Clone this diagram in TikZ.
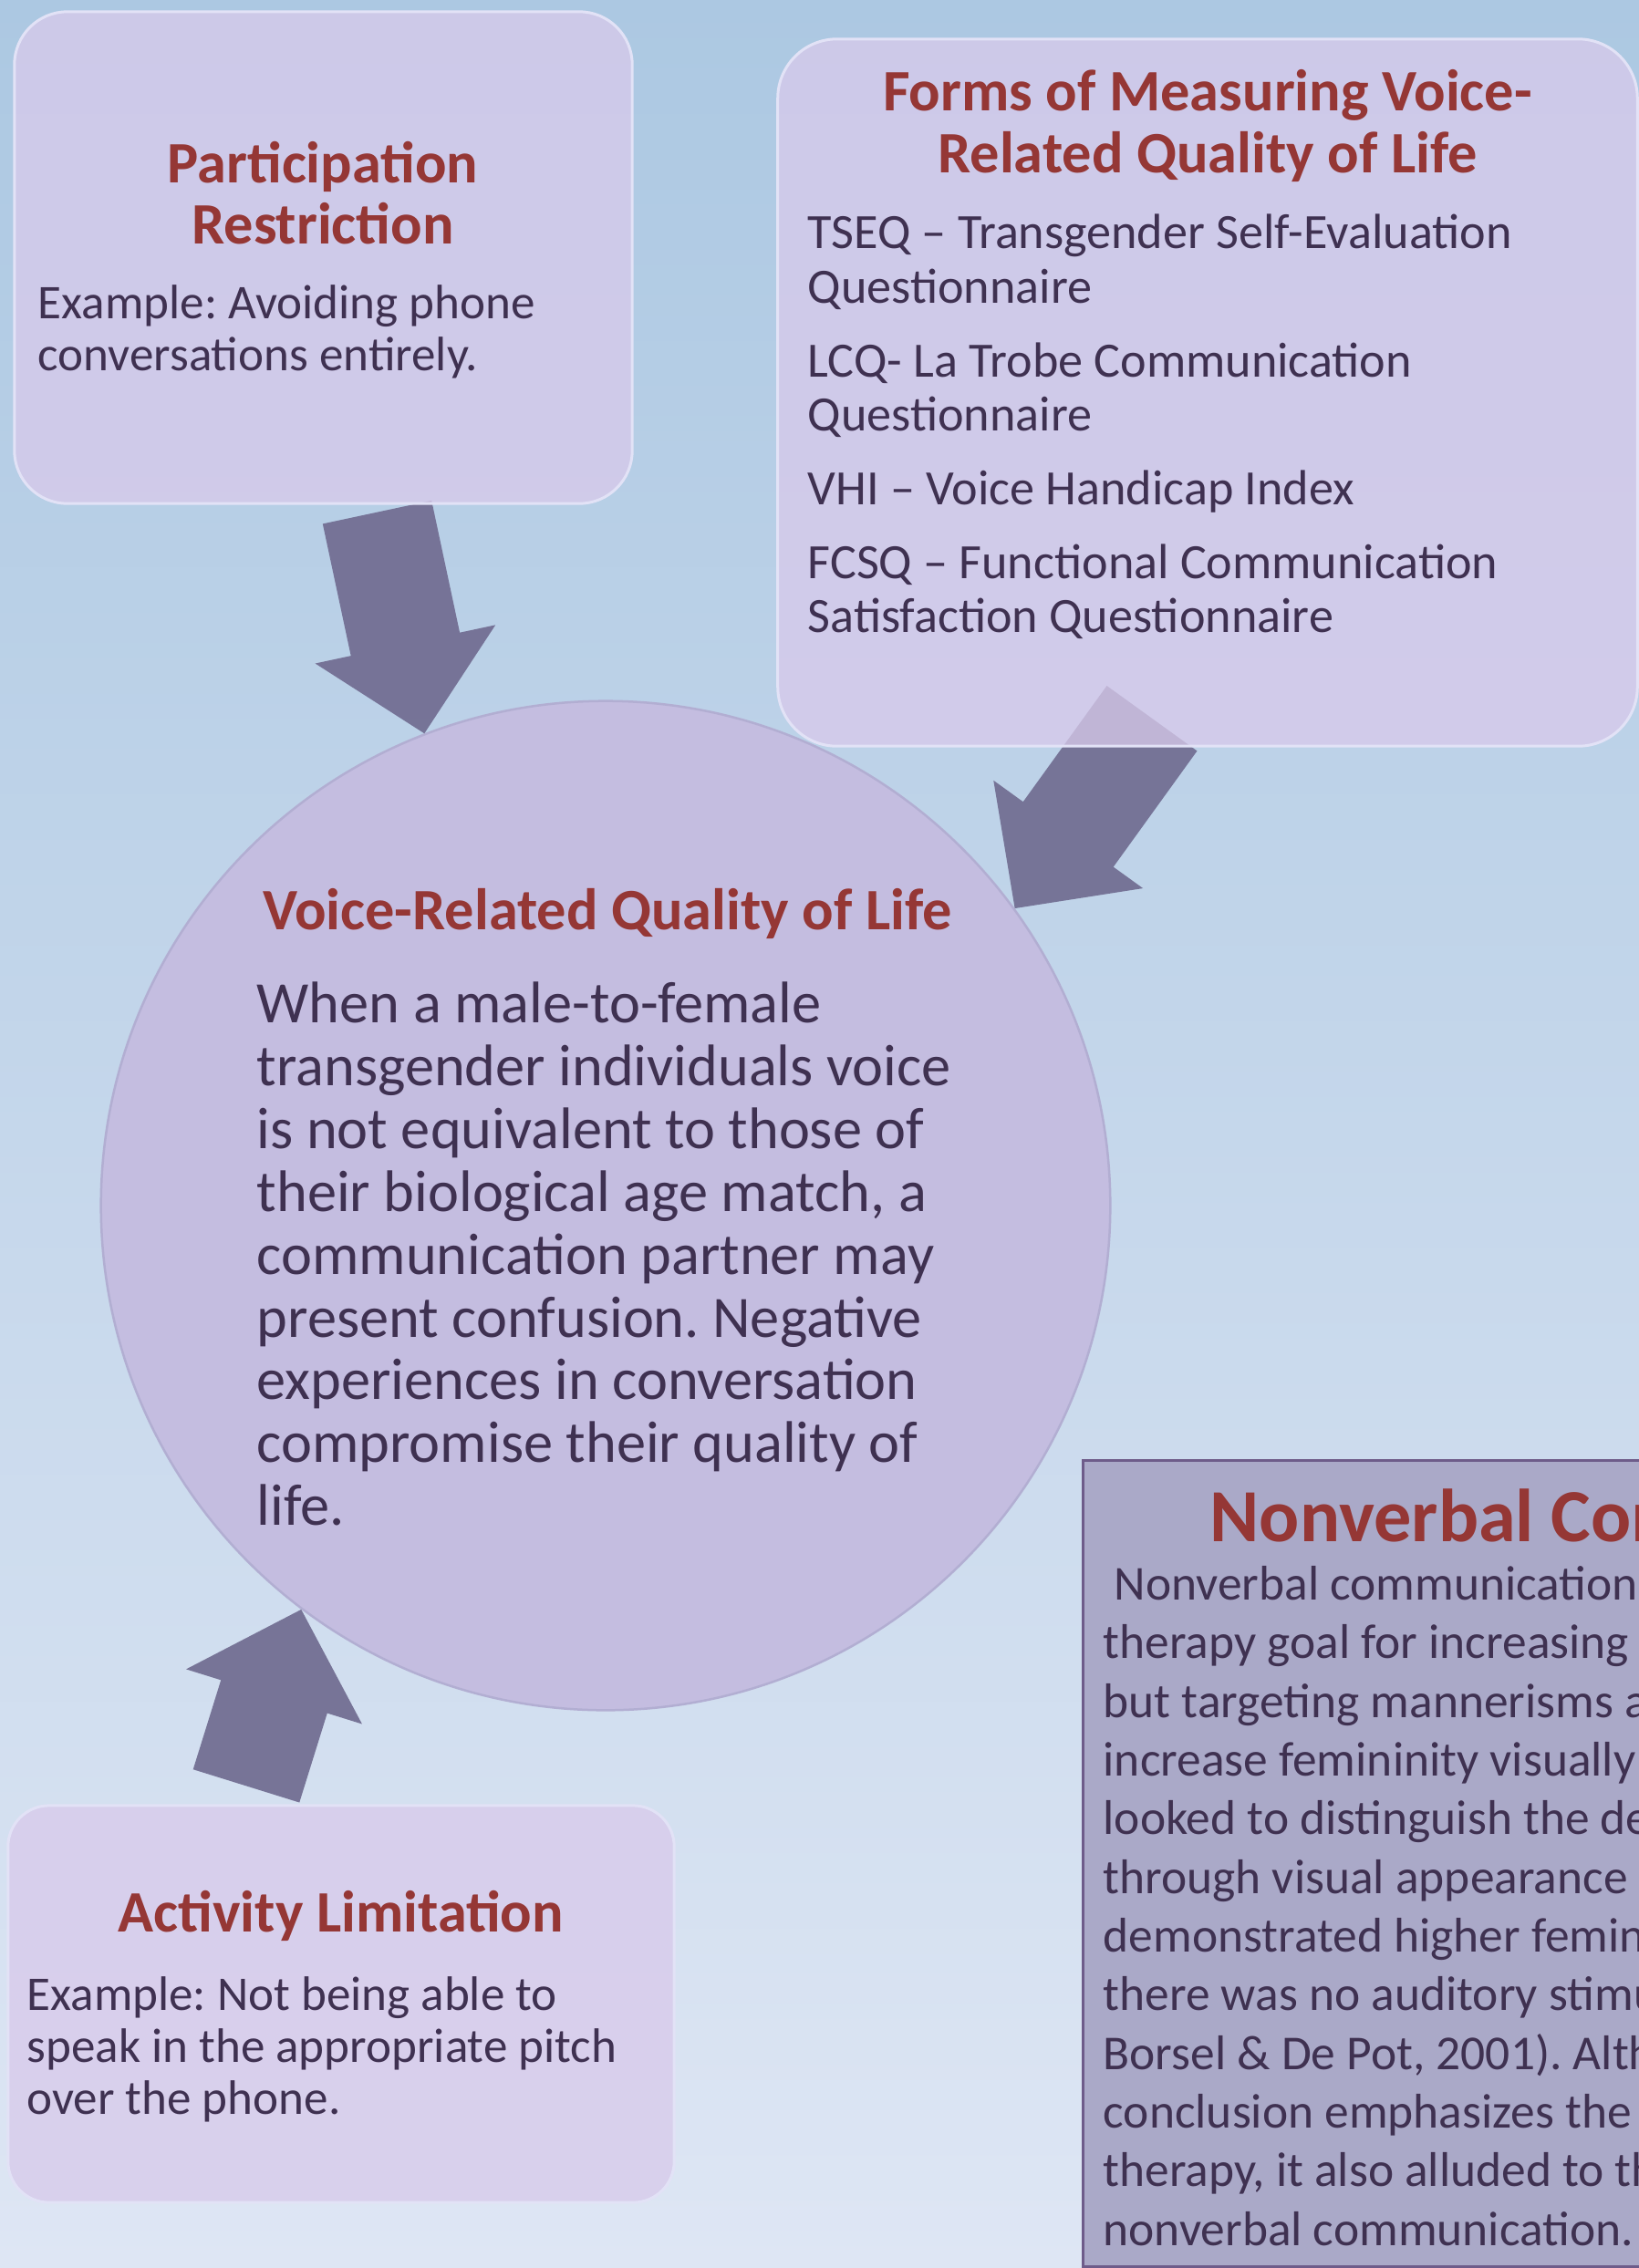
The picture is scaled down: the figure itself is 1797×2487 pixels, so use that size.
\documentclass[tikz,border=0pt]{standalone}
\usepackage{fontspec}
\setmainfont{Carlito}
\frenchspacing
\usetikzlibrary{positioning,calc,shapes.geometric}

\definecolor{skytop}{HTML}{ACC8E2}
\definecolor{skybot}{HTML}{DEE6F4}
\definecolor{cardfill}{RGB}{216,202,235}
\definecolor{cardrim}{HTML}{E2E2F6}
\definecolor{discfill}{RGB}{196,189,224}
\definecolor{discrim}{RGB}{178,174,210}
\definecolor{flowfill}{HTML}{736F93}
\definecolor{panelfill}{RGB}{170,169,200}
\definecolor{panelrim}{RGB}{110,92,138}
\definecolor{headred}{HTML}{953735}
\definecolor{bodyink}{HTML}{3F3151}

\pgfdeclarelayer{back}
\pgfdeclarelayer{flows}
\pgfsetlayers{back,flows,main}

% block arrow from #1 (middle of the tail) to #2 (the tip)
\newcommand{\fatarrow}[2]{%
  \path ($(#2)!1cm!(#1)$) coordinate (hb);
  \fill[flow] ($(#1)!0.61cm!90:(#2)$) -- ($(hb)!0.61cm!-90:(#1)$)
    -- ($(hb)!1.01cm!-90:(#1)$) -- (#2) -- ($(hb)!1.01cm!90:(#1)$)
    -- ($(hb)!0.61cm!90:(#1)$) -- ($(#1)!0.61cm!-90:(#2)$) -- cycle;
}

\begin{document}
\begin{tikzpicture}[x=0.01cm, y=-0.01cm,
    card/.style={draw=cardrim, line width=0.03cm, fill=cardfill, fill opacity=0.76, inner sep=0pt},
    disc/.style={circle, draw=discrim, line width=0.025cm, fill=discfill, inner sep=0pt},
    panel/.style={draw=panelrim, line width=0.03cm, fill=panelfill, inner sep=0pt},
    flow/.style={fill=flowfill, fill opacity=0.95},
    hdr/.style={text=headred, font=\fontsize{18.3}{19.1}\selectfont\bfseries, align=center, inner sep=0pt},
    txt/.style={text=bodyink, font=\fontsize{15.1}{16.2}\selectfont, align=left, inner sep=0pt}]
    \useasboundingbox (0,0) rectangle (1797,2487);

    % sky and the central disc
    \begin{pgfonlayer}{back}
        \shade[top color=skytop, bottom color=skybot] (0,0) rectangle (1797,2487);
        \node[disc, minimum size=11.06cm] (vq) at (664,1322) {};
    \end{pgfonlayer}

    % cards
    \node[card, rounded corners=0.58cm, minimum width=6.77cm, minimum height=5.39cm] (pr) at (354.5,282.5) {};
    \node[card, rounded corners=0.65cm, minimum width=9.42cm, minimum height=7.75cm] (fm) at (1324,430.5) {};
    \node[card, rounded corners=0.45cm, minimum width=7.30cm, minimum height=4.35cm] (al) at (374,2197.5) {};
    \node[panel, minimum width=6.22cm, minimum height=8.83cm] (nv) at (1499,2043.5) {};

    % arrows into the disc
    \begin{pgfonlayer}{flows}
        \coordinate (pr-tail) at ($(pr.south)+(59,8)$);
        \coordinate (fm-tail) at ($(fm.south)+(-61,-32)$);
        \coordinate (al-tail) at ($(al.north)+(-104,-20)$);
        \fatarrow{pr-tail}{vq.111}
        \fatarrow{fm-tail}{vq.36.5}
        \fatarrow{al-tail}{vq.233}
    \end{pgfonlayer}

    % Participation Restriction
    \node[hdr] (pr-title) at (354,212) {Participation\\Restriction};
    \node[txt, anchor=west] (pr-text) at (41,364) {Example: Avoiding phone\\conversations entirely.};

    % Forms of measuring
    \node[hdr] (fm-title) at (1324,138) {Forms of Measuring Voice-\\Related Quality of Life};
    \node[txt, anchor=west, font=\fontsize{15.4}{16.8}\selectfont] (fm-text) at (885,468)
        {TSEQ -- Transgender Self-Evaluation\\Questionnaire\\[0.22cm]
         LCQ- La Trobe Communication\\Questionnaire\\[0.22cm]
         VHI -- Voice Handicap Index\\[0.22cm]
         FCSQ -- Functional Communication\\Satisfaction Questionnaire};

    % Voice-Related Quality of Life
    \node[hdr] (vq-title) at (666,1002) {Voice-Related Quality of Life};
    \node[txt, anchor=west, font=\fontsize{18.3}{19.6}\selectfont] (vq-text) at (281,1375)
        {When a male-to-female\\transgender individuals voice\\is not equivalent to those of\\their biological age match, a\\communication partner may\\present confusion. Negative\\experiences in conversation\\compromise their quality of\\life.};

    % Activity Limitation
    \node[hdr] (al-title) at (374,2101) {Activity Limitation};
    \node[txt, anchor=west] (al-text) at (29,2247)
        {Example: Not being able to\\speak in the appropriate pitch\\over the phone.};

    % Nonverbal communication
    \node[hdr, anchor=west, font=\fontsize{23.4}{24}\selectfont\bfseries] (nv-title) at (1326,1662) {Nonverbal Com};
    \node[txt, anchor=west, font=\fontsize{15.2}{18.3}\selectfont] (nv-text) at (1209,2090)
        {\ Nonverbal communication\\therapy goal for increasing\\but targeting mannerisms a\\increase femininity visually\\looked to distinguish the de\\through visual appearance\\demonstrated higher femin\\there was no auditory stimu\\Borsel \& De Pot, 2001). Alth\\conclusion emphasizes the\\therapy, it also alluded to th\\nonverbal communication.};
\end{tikzpicture}
\end{document}
